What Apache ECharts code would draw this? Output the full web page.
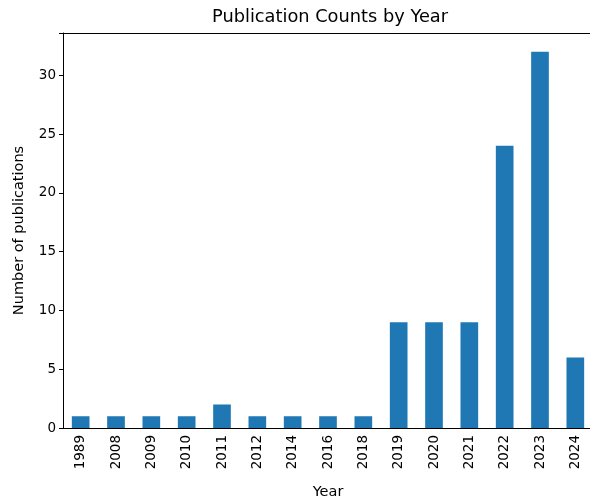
<!DOCTYPE html>
<html><head><meta charset="utf-8">
<script src="https://cdn.jsdelivr.net/npm/echarts@6/dist/echarts.min.js"></script>
<style>html,body{margin:0;padding:0;background:#fff;overflow:hidden;width:590px;height:499px}#c{width:593px;height:499px}</style>
</head><body><div id="c"></div>
<script>
const years = ["1989","2008","2009","2010","2011","2012","2014","2016","2018","2019","2020","2021","2022","2023","2024"];
const counts = [1,1,1,1,2,1,1,1,1,9,9,9,24,32,6];
const yTicks = [0,5,10,15,20,25,30];

const font = "DejaVu Sans";
const chart = echarts.init(document.getElementById('c'), null, {renderer:'canvas'});
chart.setOption({
  animation:false,
  backgroundColor:'#ffffff',
  title:{text:'Publication Counts by Year', left:325, textAlign:'center', top:3,
    textStyle:{fontFamily:font, fontSize:17.8, fontWeight:'normal', color:'#000'}},
  grid:{left:63, right:0, top:33, bottom:71, containLabel:false, outerBoundsMode:'none'},
  xAxis:[{
    type:'category', data:years, name:'Year', nameLocation:'middle', nameGap:57,
    nameTextStyle:{fontFamily:font, fontSize:14.5, color:'#000'},
    axisLine:{lineStyle:{color:'#000', width:1}},
    axisTick:{alignWithLabel:true, length:4, lineStyle:{color:'#000'}},
    axisLabel:{rotate:90, fontFamily:font, fontSize:13.5, color:'#000', margin:7},
    splitLine:{show:false}
  },{
    type:'category', data:years, position:'top',
    axisLine:{lineStyle:{color:'#000', width:1}},
    axisTick:{show:false}, axisLabel:{show:false}, splitLine:{show:false}
  }],
  yAxis:{
    type:'value', min:0, max:33.6, interval:5,
    name:'Number of publications', nameLocation:'middle', nameGap:36, nameRotate:90,
    nameTextStyle:{fontFamily:font, fontSize:14.5, color:'#000'},
    axisLine:{show:true, lineStyle:{color:'#000', width:1}},
    axisTick:{show:true, length:4, lineStyle:{color:'#000'}},
    axisLabel:{fontFamily:font, fontSize:13.5, color:'#000', margin:7,
      formatter:v => yTicks.includes(v) ? String(v) : ''},
    splitLine:{show:false}
  },
  series:[{type:'bar', data:counts, barWidth:'50%', itemStyle:{color:'#1f77b4'}}]
});
</script></body></html>
